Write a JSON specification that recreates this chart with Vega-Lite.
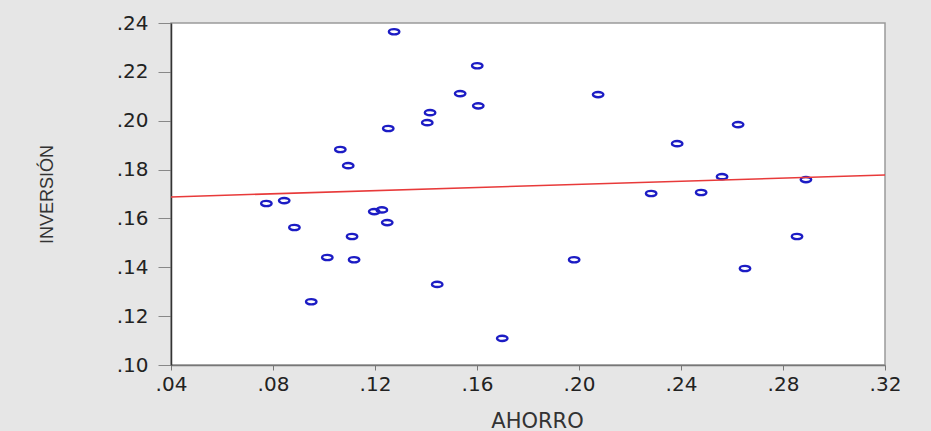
{
  "$schema": "https://vega.github.io/schema/vega-lite/v6.json",
  "width": 714,
  "height": 342,
  "autosize": {"type": "none"},
  "padding": {"left": 171, "top": 23, "right": 46, "bottom": 66},
  "background": "#e6e6e6",
  "config": {
    "view": {"fill": "white", "stroke": "#9a9a9a", "strokeWidth": 1.5},
    "axis": {"grid": false}
  },
  "layer": [
    {
      "data": {
        "values": [
          {"ahorro": 0.0774, "inversion": 0.1661},
          {"ahorro": 0.0844, "inversion": 0.1673},
          {"ahorro": 0.0884, "inversion": 0.1563},
          {"ahorro": 0.0950, "inversion": 0.1259},
          {"ahorro": 0.1013, "inversion": 0.1440},
          {"ahorro": 0.1064, "inversion": 0.1882},
          {"ahorro": 0.1095, "inversion": 0.1816},
          {"ahorro": 0.1110, "inversion": 0.1526},
          {"ahorro": 0.1118, "inversion": 0.1431},
          {"ahorro": 0.1197, "inversion": 0.1628},
          {"ahorro": 0.1227, "inversion": 0.1635},
          {"ahorro": 0.1248, "inversion": 0.1583},
          {"ahorro": 0.1252, "inversion": 0.1968},
          {"ahorro": 0.1275, "inversion": 0.2364},
          {"ahorro": 0.1405, "inversion": 0.1992},
          {"ahorro": 0.1416, "inversion": 0.2033},
          {"ahorro": 0.1444, "inversion": 0.1330},
          {"ahorro": 0.1534, "inversion": 0.2111},
          {"ahorro": 0.1601, "inversion": 0.2225},
          {"ahorro": 0.1605, "inversion": 0.2061},
          {"ahorro": 0.1699, "inversion": 0.1109},
          {"ahorro": 0.1981, "inversion": 0.1431},
          {"ahorro": 0.2075, "inversion": 0.2107},
          {"ahorro": 0.2283, "inversion": 0.1702},
          {"ahorro": 0.2385, "inversion": 0.1906},
          {"ahorro": 0.2479, "inversion": 0.1706},
          {"ahorro": 0.2561, "inversion": 0.1771},
          {"ahorro": 0.2624, "inversion": 0.1984},
          {"ahorro": 0.2651, "inversion": 0.1395},
          {"ahorro": 0.2855, "inversion": 0.1526},
          {"ahorro": 0.2890, "inversion": 0.1759}
        ]
      },
      "mark": {
        "type": "point",
        "shape": "M-1,0A1,0.5,0,1,1,1,0A1,0.5,0,1,1,-1,0Z",
        "filled": false,
        "color": "#1c1cc4",
        "strokeWidth": 2.4,
        "size": 110,
        "opacity": 1
      },
      "encoding": {
        "x": {
          "field": "ahorro",
          "type": "quantitative",
          "scale": {"domain": [0.04, 0.32], "nice": false, "zero": false},
          "axis": {
            "title": "AHORRO",
            "values": [0.04, 0.08, 0.12, 0.16, 0.2, 0.24, 0.28, 0.32],
            "labelExpr": "replace(format(datum.value, '.2f'), '0.', '.')",
            "labelFont": "DejaVu Sans",
            "labelFontSize": 20,
            "labelColor": "#222222",
            "labelPadding": 4,
            "labelFlush": false,
            "tickSize": 5,
            "tickColor": "#777777",
            "domainColor": "#777777",
            "domainWidth": 1.5,
            "titleFont": "DejaVu Sans",
            "titleFontSize": 21,
            "titleFontWeight": "normal",
            "titleColor": "#333333",
            "titleX": 366,
            "titleY": 62,
            "titleAlign": "center",
            "titleBaseline": "alphabetic"
          }
        },
        "y": {
          "field": "inversion",
          "type": "quantitative",
          "scale": {"domain": [0.10, 0.24], "nice": false, "zero": false},
          "axis": {
            "title": "INVERSIÓN",
            "values": [0.10, 0.12, 0.14, 0.16, 0.18, 0.20, 0.22, 0.24],
            "labelExpr": "replace(format(datum.value, '.2f'), '0.', '.')",
            "labelFont": "DejaVu Sans",
            "labelFontSize": 20,
            "labelColor": "#222222",
            "labelPadding": 10,
            "labelFlush": false,
            "tickSize": 13,
            "tickColor": "#888888",
            "domainColor": "#333333",
            "domainWidth": 1.5,
            "titleFont": "Liberation Sans",
            "titleFontSize": 18,
            "titleFontWeight": "normal",
            "titleColor": "#333333",
            "titleX": -119,
            "titleBaseline": "alphabetic"
          }
        }
      }
    },
    {
      "data": {
        "values": [
          {"ahorro": 0.04, "inversion": 0.1688},
          {"ahorro": 0.32, "inversion": 0.1778}
        ]
      },
      "mark": {"type": "line", "color": "#e83a3a", "strokeWidth": 1.5},
      "encoding": {
        "x": {"field": "ahorro", "type": "quantitative"},
        "y": {"field": "inversion", "type": "quantitative"}
      }
    }
  ]
}
